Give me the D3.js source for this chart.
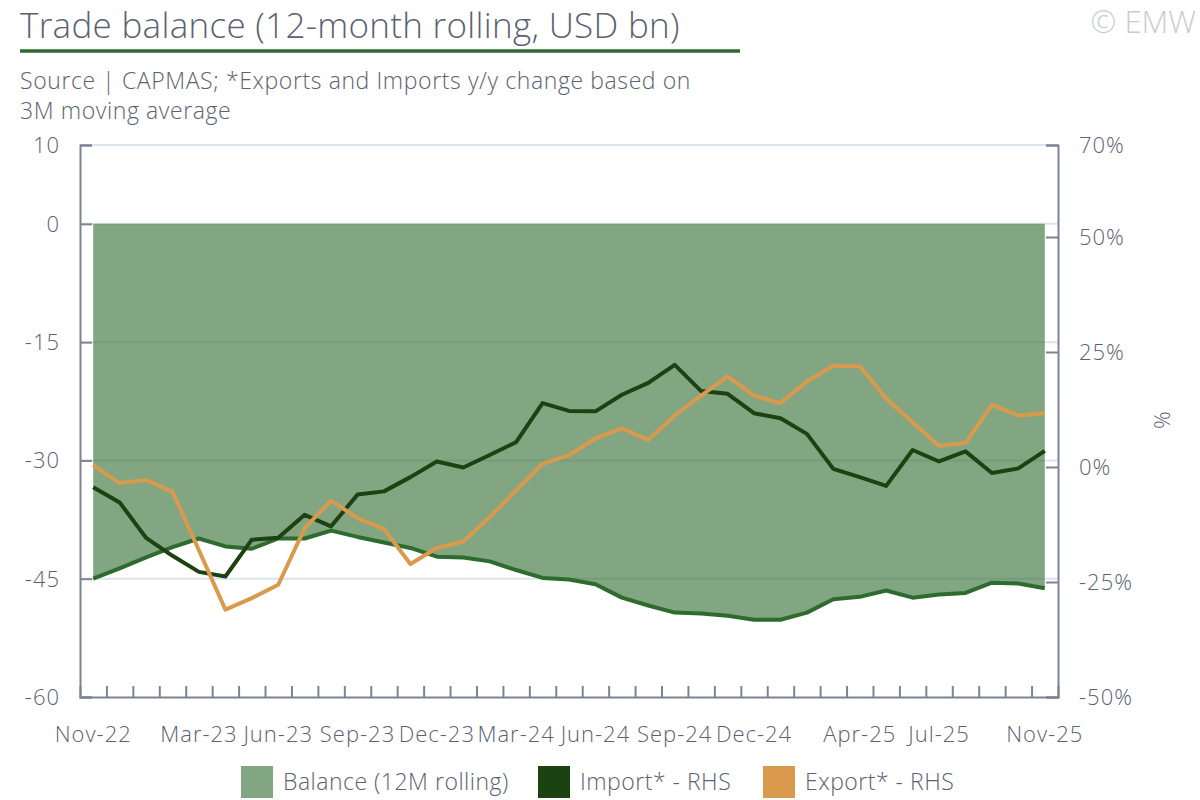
<!DOCTYPE html>
<html>
<head>
<meta charset="utf-8">
<script src="https://cdn.jsdelivr.net/npm/d3@7"></script>
<style>
  body { margin: 0; background: #fff; }
  svg text { font-family: "Open Sans", Lato, sans-serif; fill: #5b6272; font-weight: 300; }
</style>
</head>
<body>
<div class="chart"></div>
<script>
// data
var months = ["Nov-22","Dec-22","Jan-23","Feb-23","Mar-23","Apr-23","May-23","Jun-23","Jul-23","Aug-23","Sep-23","Oct-23","Nov-23",
  "Dec-23","Jan-24","Feb-24","Mar-24","Apr-24","May-24","Jun-24","Jul-24","Aug-24","Sep-24","Oct-24","Nov-24",
  "Dec-24","Jan-25","Feb-25","Mar-25","Apr-25","May-25","Jun-25","Jul-25","Aug-25","Sep-25","Oct-25","Nov-25"];

var shownLabels = ["Nov-22","Mar-23","Jun-23","Sep-23","Dec-23","Mar-24","Jun-24","Sep-24","Dec-24","Apr-25","Jul-25","Nov-25"];

var balance = [-45.0,-43.7,-42.3,-41.0,-39.9,-40.9,-41.2,-39.9,-39.9,-38.9,-39.7,-40.4,-41.1,
  -42.2,-42.3,-42.8,-43.9,-44.9,-45.1,-45.7,-47.4,-48.4,-49.3,-49.4,-49.7,
  -50.2,-50.2,-49.3,-47.6,-47.3,-46.5,-47.4,-47.0,-46.8,-45.5,-45.6,-46.2];

var imports = [-4.4,-7.7,-15.4,-19.3,-22.8,-23.8,-15.8,-15.4,-10.4,-12.9,-6.0,-5.3,-2.2,
  1.2,-0.1,2.6,5.4,13.9,12.2,12.1,15.7,18.3,22.2,16.5,15.9,
  11.7,10.6,7.2,-0.4,-2.2,-4.1,3.7,1.2,3.4,-1.3,-0.3,3.5];

var exports = [0.4,-3.5,-2.8,-5.4,-18.1,-31.0,-28.5,-25.6,-13.3,-7.3,-11.1,-13.5,-21.1,
  -17.6,-16.2,-10.9,-5.1,0.7,2.6,6.2,8.4,5.9,11.2,15.5,19.7,
  15.5,13.9,18.6,22.0,21.9,14.9,9.7,4.6,5.2,13.5,11.2,11.7];

var leftTicks = [10, 0, -15, -30, -45, -60];
var rightTicks = [70, 50, 25, 0, -25, -50];

var legendItems = ["Balance (12M rolling)", "Import* - RHS", "Export* - RHS"];

// layout
var W = 1200, H = 800;
var plot = {left: 80, right: 1058, top: 145, bottom: 697};
var cBalance = "#2e6b2e", cImport = "#1b4210", cExport = "#d99a4e";
var cAxis = "#7d8392", cGrid = "#dce4ee";

var svg = d3.select(".chart").append("svg")
    .attr("width", W)
    .attr("height", H);

// scales
var x = d3.scaleBand()
    .domain(months)
    .range([plot.left, plot.right]);
var xc = d => x(d) + x.bandwidth() / 2;
var xIdx = d3.scaleLinear().domain([0, months.length]).range([plot.left, plot.right]);

var yL = d3.scaleLinear().domain([-60, 10]).range([plot.bottom, plot.top]);
var yR = d3.scaleLinear().domain([-50, 70]).range([plot.bottom, plot.top]);

// title
svg.append("text")
  .attr("x", 20).attr("y", 38)
  .style("font-size", "35px")
  .style("letter-spacing", "0.3px")
  .text("Trade balance (12-month rolling, USD bn)");

svg.append("line")
  .attr("x1", 20).attr("x2", 740)
  .attr("y1", 51).attr("y2", 51)
  .attr("stroke", "#2e6b30")
  .attr("stroke-width", 3.5);

svg.append("text")
  .attr("x", 1196).attr("y", 33)
  .attr("text-anchor", "end")
  .style("font-size", "31px")
  .style("fill", "#c9ccd2")
  .text("© EMW");

svg.append("text")
  .attr("x", 20).attr("y", 89)
  .style("font-size", "23px")
  .style("letter-spacing", "0.6px")
  .text("Source | CAPMAS; *Exports and Imports y/y change based on");
svg.append("text")
  .attr("x", 20).attr("y", 119)
  .style("font-size", "23px")
  .style("letter-spacing", "0.6px")
  .text("3M moving average");

// gridlines
svg.append("g")
  .selectAll("line")
  .data(leftTicks.slice(0, -1))
  .join("line")
    .attr("x1", plot.left).attr("x2", plot.right)
    .attr("y1", d => yL(d)).attr("y2", d => yL(d))
    .attr("stroke", cGrid)
    .attr("stroke-width", 2);

// balance area
var area = d3.area()
    .x((d, i) => xc(months[i]))
    .y0(yL(0))
    .y1(d => yL(d));

svg.append("path")
  .attr("d", area(balance))
  .attr("fill", cBalance)
  .attr("fill-opacity", 0.6);

var lineL = d3.line()
    .x((d, i) => xc(months[i]))
    .y(d => yL(d));
var lineR = d3.line()
    .x((d, i) => xc(months[i]))
    .y(d => yR(d));

svg.append("path")
  .attr("d", lineL(balance))
  .attr("fill", "none")
  .attr("stroke", cBalance)
  .attr("stroke-width", 4)
  .attr("stroke-linejoin", "round");

svg.append("path")
  .attr("d", lineR(imports))
  .attr("fill", "none")
  .attr("stroke", cImport)
  .attr("stroke-width", 4)
  .attr("stroke-linejoin", "round");

svg.append("path")
  .attr("d", lineR(exports))
  .attr("fill", "none")
  .attr("stroke", cExport)
  .attr("stroke-width", 4)
  .attr("stroke-linejoin", "round");

// axes
var gl = svg.append("g")
  .attr("transform", `translate(${plot.left},0)`)
  .call(d3.axisRight(yL).tickValues(leftTicks).tickSize(12).tickFormat(""));

var gr = svg.append("g")
  .attr("transform", `translate(${plot.right},0)`)
  .call(d3.axisLeft(yR).tickValues(rightTicks).tickSize(12).tickFormat(""));

var gb = svg.append("g")
  .attr("transform", `translate(0,${plot.bottom})`)
  .call(d3.axisTop(xIdx).tickValues(d3.range(1, months.length)).tickSize(11).tickFormat(""));

[gl, gr, gb].forEach(g => {
  g.select(".domain").attr("stroke", cAxis).attr("stroke-width", 2);
  g.selectAll(".tick line").attr("stroke", cAxis).attr("stroke-width", 2);
});

// axis labels
svg.append("g")
  .selectAll("text")
  .data(leftTicks)
  .join("text")
    .attr("x", 60)
    .attr("y", d => yL(d) + 8)
    .attr("text-anchor", "end")
    .style("font-size", "22px")
    .style("letter-spacing", "1px")
    .text(d => d);

svg.append("g")
  .selectAll("text")
  .data(rightTicks)
  .join("text")
    .attr("x", 1079)
    .attr("y", d => yR(d) + 8)
    .style("font-size", "22px")
    .style("letter-spacing", "1px")
    .text(d => d + "%");

svg.append("text")
  .attr("transform", "translate(1170,420) rotate(-90)")
  .attr("text-anchor", "middle")
  .style("font-size", "22px")
  .text("%");

svg.append("g")
  .selectAll("text")
  .data(shownLabels)
  .join("text")
    .attr("x", d => xc(d))
    .attr("y", 742)
    .attr("text-anchor", "middle")
    .style("font-size", "22px")
    .style("letter-spacing", "1px")
    .text(d => d);

// legend
var legendX = [241, 538, 763];
var legendC = [cBalance, cImport, cExport];
var legendO = [0.6, 1, 1];
var lg = svg.append("g")
  .selectAll("g")
  .data(legendItems)
  .join("g")
    .attr("transform", (d, i) => `translate(${legendX[i]},766)`);
lg.append("rect")
  .attr("width", 32).attr("height", 32)
  .attr("fill", (d, i) => legendC[i])
  .attr("fill-opacity", (d, i) => legendO[i]);
lg.append("text")
  .attr("x", 42).attr("y", 24)
  .style("font-size", "23px")
  .style("letter-spacing", "0.5px")
  .text(d => d);
</script>
</body>
</html>
